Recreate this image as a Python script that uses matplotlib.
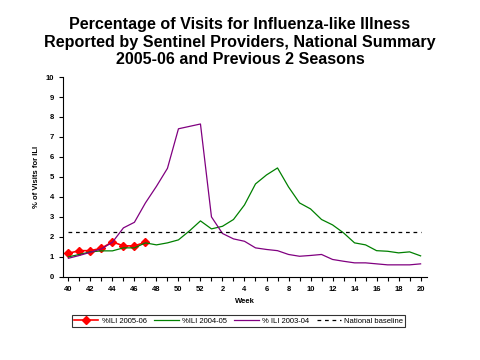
import matplotlib
matplotlib.use('Agg')
import matplotlib.pyplot as plt
import numpy as np

plt.rcParams['font.family'] = ['Liberation Sans', 'DejaVu Sans']

weeks = [40, 41, 42, 43, 44, 45, 46, 47, 48, 49, 50, 51, 52,
         1, 2, 3, 4, 5, 6, 7, 8, 9, 10, 11, 12, 13, 14, 15, 16, 17, 18, 19, 20]
ili_0506 = [1.18, 1.31, 1.31, 1.43, 1.75, 1.55, 1.55, 1.73]
ili_0405 = [1.0, 1.12, 1.25, 1.3, 1.3, 1.45, 1.45, 1.7, 1.6, 1.7, 1.85, 2.3, 2.8,
            2.4, 2.53, 2.87, 3.6, 4.65, 5.1, 5.45, 4.5, 3.7, 3.4, 2.87, 2.6, 2.2,
            1.7, 1.6, 1.31, 1.28, 1.2, 1.25, 1.05]
ili_0304 = [0.93, 1.07, 1.23, 1.4, 1.73, 2.45, 2.73, 3.7, 4.53, 5.43, 7.41, 7.53, 7.65,
            3.0, 2.17, 1.9, 1.78, 1.45, 1.37, 1.31, 1.12, 1.03, 1.07, 1.12, 0.87, 0.78,
            0.7, 0.7, 0.65, 0.6, 0.6, 0.6, 0.65]
baseline = 2.25

x = np.arange(len(weeks))

fig = plt.figure(figsize=(4.8, 3.6), dpi=100)
ax = fig.add_axes([0.131, 0.231, 0.759, 0.555])

ax.plot(x[:len(ili_0506)], ili_0506, color='#ff0000', lw=1.2, marker='D', ms=4.5,
        label='%ILI 2005-06')
ax.plot(x, ili_0405, color='#008000', lw=0.9, label='%ILI 2004-05')
ax.plot(x, ili_0304, color='#800080', lw=0.9, label='% ILI 2003-04')
ax.plot([x[0], x[-1]], [baseline, baseline], color='black', lw=0.9, ls=(0, (3, 3)),
        label='National baseline')

ax.set_xlim(-0.5, 32.6)
ax.set_ylim(0, 10)
ax.set_yticks(range(0, 11))
ax.set_xticks(x[::2])
ax.set_xticklabels([str(w) for w in weeks[::2]])
ax.set_xticks(x, minor=True)
ax.tick_params(axis='both', labelsize=5.5, length=3, width=0.8, direction='out')
ax.tick_params(axis='x', which='minor', length=3, width=0.8)
for lab in ax.get_xticklabels() + ax.get_yticklabels():
    lab.set_fontweight('bold')
ax.spines['top'].set_visible(False)
ax.spines['right'].set_visible(False)
ax.set_xlabel('Week', fontsize=5.5, fontweight='bold')
ax.set_ylabel('% of Visits for ILI', fontsize=5.5, fontweight='bold')

fig.suptitle('Percentage of Visits for Influenza-like Illness\n'
             'Reported by Sentinel Providers, National Summary\n'
             '2005-06 and Previous 2 Seasons',
             fontsize=11.6, fontweight='bold', y=0.953, linespacing=1.22)

leg = fig.legend(loc='center', bbox_to_anchor=(0.497, 0.108), ncol=4,
                 fontsize=5.5, frameon=True, fancybox=False, edgecolor='black',
                 handlelength=3.2, columnspacing=1.0, handletextpad=0.4,
                 borderpad=0.3)
leg.get_frame().set_linewidth(0.8)

fig.savefig('out.png', dpi=100)
